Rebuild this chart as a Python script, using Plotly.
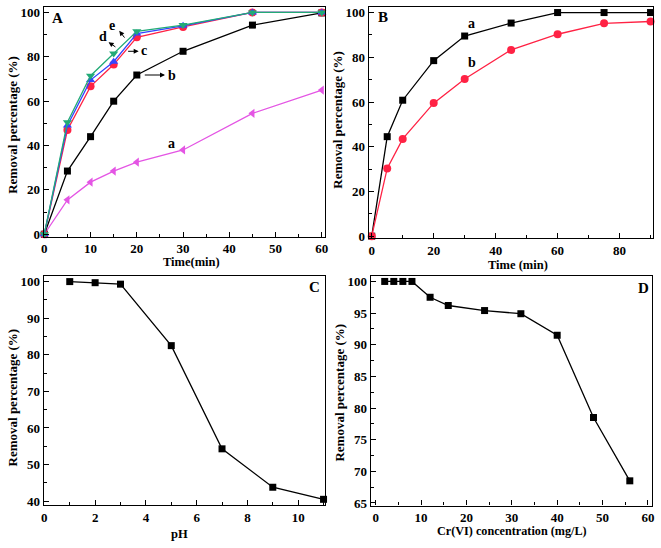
import plotly.graph_objects as go

# Panel A
tA = [0, 5, 10, 15, 20, 30, 45, 60]
A_a = [0, 15.5, 23.5, 28.5, 32.5, 38, 54.5, 65]
A_b = [0, 28.5, 44, 60, 71.8, 82.5, 94.3, 99.8]
A_c = [0, 47, 66.7, 76.5, 88.8, 93.5, 100, 100]
A_d = [0, 49, 69.5, 77.8, 90.5, 94, 100, 100]
A_e = [0, 50.5, 71.5, 81.5, 91.5, 94.3, 100, 100]
# Panel B
tB = [0, 5, 10, 20, 30, 45, 60, 75, 90]
B_a = [0, 44.5, 60.8, 78.5, 89.5, 95.3, 100, 100, 100]
B_b = [0, 30.3, 43.5, 59.5, 70.3, 83.3, 90.3, 95.2, 96]
# Panel C
pH = [1, 2, 3, 5, 7, 9, 11]
C_r = [100, 99.7, 99.3, 82.5, 54.3, 43.8, 40.5]
# Panel D
conc = [2, 4, 6, 8, 12, 16, 24, 32, 40, 48, 56]
D_r = [100, 100, 100, 100, 97.5, 96.2, 95.4, 94.9, 91.5, 78.5, 68.5]

FONT = "Liberation Serif"
fig = go.Figure()

def tr(x, y, color, symbol, xa, ya, size=7):
    fig.add_trace(go.Scatter(x=x, y=y, mode="lines+markers", xaxis=xa, yaxis=ya,
                             line=dict(color=color, width=1.3),
                             marker=dict(color=color, symbol=symbol, size=size),
                             showlegend=False, cliponaxis=False))

tr(tA, A_a, "#E455E4", "triangle-left", "x", "y", 8)
tr(tA, A_b, "black", "square", "x", "y")
tr(tA, A_c, "#FF2244", "circle", "x", "y", 8)
tr(tA, A_d, "#3344FF", "triangle-up", "x", "y", 8)
tr(tA, A_e, "#22AA77", "triangle-down", "x", "y", 8)
tr(tB, B_a, "black", "square", "x2", "y2")
tr(tB, B_b, "#FF2244", "circle", "x2", "y2", 8)
tr(pH, C_r, "black", "square", "x3", "y3")
tr(conc, D_r, "black", "square", "x4", "y4")

tickfont = dict(family=FONT, size=13, color="black", weight="bold")

def axis(dom, rng, dtick, minor_d, anchor):
    return dict(domain=dom, range=rng, dtick=dtick, tick0=0, anchor=anchor,
                showgrid=False, zeroline=False, showline=True, linecolor="black",
                linewidth=1.2, mirror=True, ticks="inside", ticklen=5,
                tickwidth=1, tickcolor="black", tickfont=tickfont,
                minor=dict(dtick=minor_d, ticks="inside", ticklen=3, tickcolor="black", showgrid=False))

fig.update_layout(
    width=661, height=548, margin=dict(l=0, r=0, t=0, b=0),
    plot_bgcolor="white", paper_bgcolor="white",
    font=dict(family=FONT, color="black"),
    xaxis=axis([0.062, 0.4917], [-0.15, 60.7], 10, 5, "y"),
    yaxis=axis([0.5662, 0.9909], [-1.1, 102.5], 20, 10, "x"),
    xaxis2=axis([0.5582, 0.9924], [-1, 90.8], 20, 10, "y2"),
    yaxis2=axis([0.5630, 0.9900], [-1.0, 102.3], 20, 10, "x2"),
    xaxis3=axis([0.062, 0.4917], [-0.03, 11.06], 2, 1, "y3"),
    yaxis3=axis([0.0706, 0.4940], [39, 101.6], 10, 5, "x3"),
    xaxis4=axis([0.5613, 0.9909], [-1.1, 60.9], 10, 5, "y4"),
    yaxis4=axis([0.0693, 0.4940], [64.6, 100.9], 5, 2.5, "x4"),
)

def ptxt(x, y, s, angle=0, size=13):
    fig.add_annotation(x=x, y=y, xref="paper", yref="paper", text=s, showarrow=False,
                       textangle=angle, xanchor="center", yanchor="middle",
                       font=dict(family=FONT, size=size, color="black", weight="bold"))

ytitle = "Removal percentage (%)"
ptxt(0.2874, 0.5195, "Time(min)", size=12.5)
ptxt(0.7856, 0.5133, "Time (min)", size=12.5)
ptxt(0.2688, 0.0164, "pH", size=12.5)
ptxt(0.7766, 0.0230, "Cr(VI) concentration (mg/L)", size=12.2)
ptxt(0.0151, 0.7728, ytitle, -90)
ptxt(0.5103, 0.7828, ytitle, -90)
ptxt(0.0151, 0.2688, ytitle, -90)
ptxt(0.5144, 0.2779, ytitle, -90)

def txt(x, y, s, xr, yr, size=14):
    fig.add_annotation(x=x, y=y, text=s, xref=xr, yref=yr, showarrow=False,
                       font=dict(family=FONT, size=size, color="black", weight="bold"))

def arr(x0, y0, x1, y1, xr, yr):
    fig.add_annotation(x=x1, y=y1, ax=x0, ay=y0, axref=xr, ayref=yr, xref=xr, yref=yr,
                       text="", showarrow=True, arrowhead=2, arrowsize=1, arrowwidth=1,
                       arrowcolor="black")

txt(2.9, 97.3, "A", "x", "y", 15)
txt(27.6, 71.8, "b", "x", "y")
txt(21.6, 83, "c", "x", "y")
txt(12.7, 89.2, "d", "x", "y")
txt(14.6, 94.1, "e", "x", "y")
txt(27.6, 41.1, "a", "x", "y")
arr(21.4, 71.8, 26.1, 71.8, "x", "y")
arr(17.8, 82.5, 20.4, 82.5, "x", "y")
arr(15.7, 84, 13.9, 86.6, "x", "y")
arr(17.6, 88, 16.2, 91.7, "x", "y")

txt(3.5, 98.1, "B", "x2", "y2", 15)
txt(32.3, 95.1, "a", "x2", "y2")
txt(32.5, 77.8, "b", "x2", "y2")
txt(10.65, 98.5, "C", "x3", "y3", 15)
txt(59.1, 98.9, "D", "x4", "y4", 15)

fig.write_html("out.html", config={"displayModeBar": False},
               post_script="document.body.style.margin='0';document.body.style.overflow='hidden';")
